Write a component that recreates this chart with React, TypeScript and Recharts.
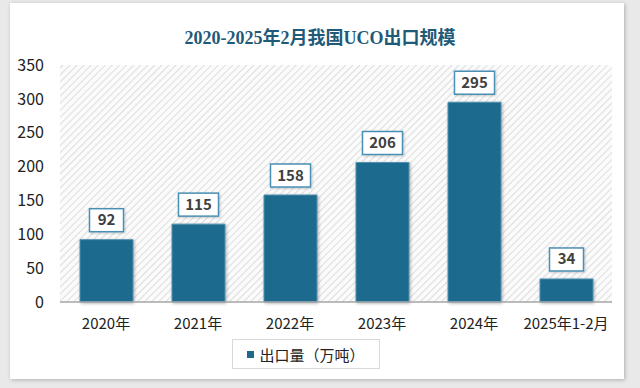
import { BarChart, Bar, XAxis, YAxis, CartesianGrid, Legend, LabelList } from 'recharts';

const years = ['2020年', '2021年', '2022年', '2023年', '2024年', '2025年1-2月'];
const exports = [92, 115, 158, 206, 295, 34];
const yTicks = [0, 50, 100, 150, 200, 250, 300, 350];

const chartData = years.map((name, i) => ({ name, value: exports[i] }));

const BAR = '#1b6a8d';
const FONT = '"Noto Sans CJK SC", "Noto Sans", sans-serif';

function ValueLabel(props: any) {
  const { x, y, width, value } = props;
  const w = String(value).length > 2 ? 40 : 34;
  const h = 23;
  const cx = x + width / 2;
  const top = y - h - 8;
  return (
    <g>
      <rect x={cx - w / 2} y={top} width={w} height={h} fill="#fff" stroke="#4a90b4" strokeWidth={1.5} filter="url(#lblShadow)" />
      <text x={cx} y={top + h / 2 + 5} textAnchor="middle" fontFamily={FONT} fontWeight={700} fontSize={15} fill="#404040">
        {value}
      </text>
    </g>
  );
}

function LegendBox() {
  return (
    <div
      style={{
        width: 146,
        height: 28,
        margin: '0 auto',
        border: '1px solid #d9d9d9',
        display: 'flex',
        alignItems: 'center',
        justifyContent: 'center',
        fontFamily: FONT,
        fontSize: 15,
        color: '#222',
        background: '#fff',
      }}
    >
      <span style={{ width: 7, height: 7, background: BAR, marginRight: 5, display: 'inline-block' }} />
      出口量（万吨）
    </div>
  );
}

export default function App() {
  return (
    <div style={{ position: 'absolute', left: 0, top: 0, width: 640, height: 388, background: '#e9e9e9', overflow: 'hidden' }}>
      <svg width={0} height={0} style={{ position: 'absolute' }}>
        <defs>
          <pattern id="hatch" width={5} height={5} patternUnits="userSpaceOnUse" patternTransform="rotate(45)">
            <rect width={5} height={5} fill="#fbfbfb" />
            <line x1={0} y1={0} x2={0} y2={5} stroke="#d4d4d4" strokeWidth={1.5} />
          </pattern>
          <filter id="barShadow" x="-20%" y="-20%" width="140%" height="140%">
            <feDropShadow dx={1} dy={1} stdDeviation={1.5} floodColor="#000" floodOpacity={0.3} />
          </filter>
          <filter id="lblShadow" x="-20%" y="-20%" width="140%" height="140%">
            <feDropShadow dx={1} dy={1} stdDeviation={1} floodColor="#000" floodOpacity={0.2} />
          </filter>
        </defs>
      </svg>
      <div
        style={{
          position: 'absolute',
          left: 10,
          top: 3,
          width: 614,
          height: 376,
          background: '#fff',
          boxShadow: '1px 1px 4px rgba(0,0,0,0.25)',
        }}
      />
      <div
        style={{
          position: 'absolute',
          left: 0,
          top: 23,
          width: 640,
          textAlign: 'center',
          fontFamily: '"Liberation Serif", "Noto Sans CJK SC", serif',
          fontWeight: 700,
          fontSize: 18,
          color: '#1f5a78',
        }}
      >
        2020-2025年2月我国UCO出口规模
      </div>
      <div style={{ position: 'absolute', left: 0, top: 0 }}>
        <BarChart width={640} height={388} data={chartData} margin={{ top: 65, right: 28, left: 0, bottom: 19 }}>
          <CartesianGrid horizontal={false} vertical={false} fill="url(#hatch)" />
          <XAxis
            dataKey="name"
            axisLine={{ stroke: '#a6a6a6', strokeWidth: 1.5 }}
            tickLine={false}
            tick={{ fill: '#222', fontSize: 15, fontFamily: FONT }}
            tickMargin={10}
            height={34}
          />
          <YAxis
            domain={[0, 350]}
            ticks={yTicks}
            axisLine={false}
            tickLine={false}
            tick={{ fill: '#222', fontSize: 16, fontFamily: FONT }}
            width={60}
            tickMargin={10}
          />
          <Legend verticalAlign="bottom" content={() => <LegendBox />} wrapperStyle={{ paddingTop: 3 }} />
          <Bar dataKey="value" name="出口量（万吨）" fill={BAR} stroke="#4f8fb0" strokeWidth={1} barSize={53} filter="url(#barShadow)" isAnimationActive={false}>
            <LabelList dataKey="value" content={ValueLabel} />
          </Bar>
        </BarChart>
      </div>
    </div>
  );
}
